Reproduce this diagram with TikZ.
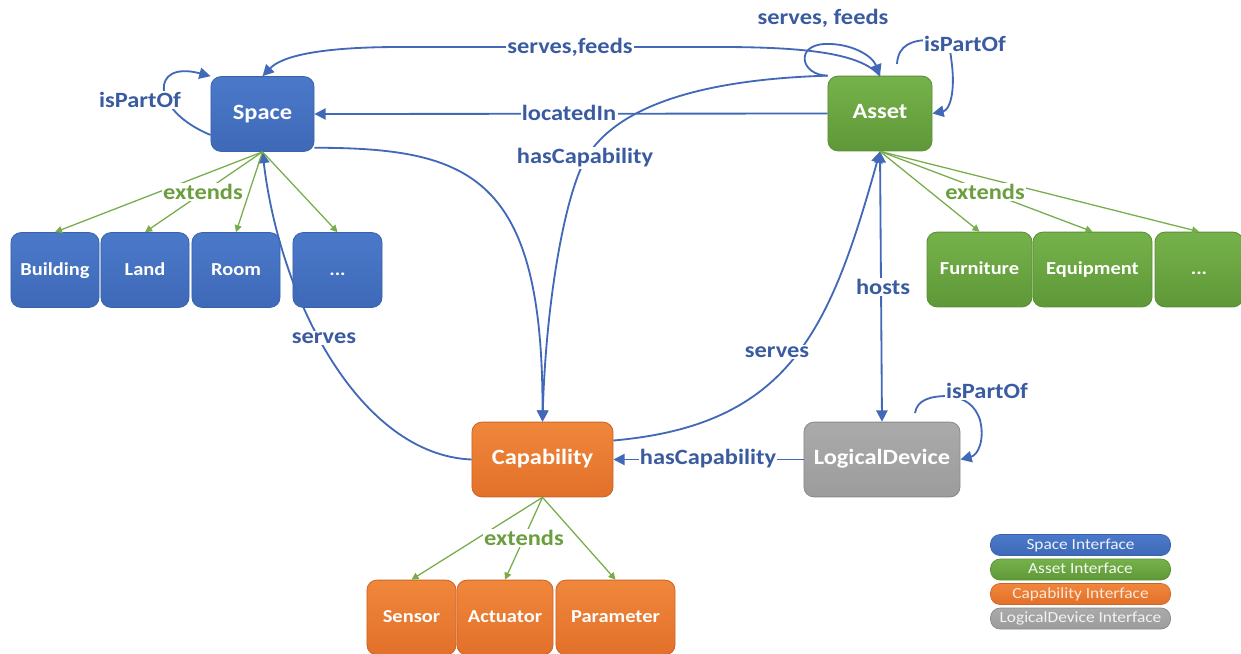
\documentclass[tikz,border=0pt]{standalone}
\usepackage{fontspec}
\setmainfont[FakeStretch=1.12]{Carlito}
\usetikzlibrary{arrows.meta}

\definecolor{spTop}{HTML}{4B79C9}
\definecolor{spBot}{HTML}{3E69B8}
\definecolor{spEdge}{HTML}{3A62AA}
\definecolor{asTop}{HTML}{76B24B}
\definecolor{asBot}{HTML}{5E9838}
\definecolor{asEdge}{HTML}{5A8F36}
\definecolor{caTop}{HTML}{F0873B}
\definecolor{caBot}{HTML}{E2702A}
\definecolor{caEdge}{HTML}{CC6428}
\definecolor{ldTop}{HTML}{AAAAAA}
\definecolor{ldBot}{HTML}{9C9C9C}
\definecolor{ldEdge}{HTML}{8A8A8A}
\definecolor{relLine}{HTML}{4169B8}
\definecolor{relText}{HTML}{3A5BA0}
\definecolor{extLine}{HTML}{76AC4A}
\definecolor{extText}{HTML}{6A9E3E}

\begin{document}
\begin{tikzpicture}[
  x=0.025cm, y=-0.025cm,
  >={Triangle[length=8pt,width=8pt]},
  box/.style={rounded corners=0.25cm, inner sep=0pt, align=center, text=white,
    line width=0.6pt, minimum height=1.87cm, text height=0.86em, text depth=0.1em,
    font=\bfseries\fontsize{15.5}{18}\selectfont},
  subbox/.style={box, font=\bfseries\fontsize{13}{15}\selectfont},
  spacefill/.style={top color=spTop, bottom color=spBot, draw=spEdge},
  assetfill/.style={top color=asTop, bottom color=asBot, draw=asEdge},
  capfill/.style={top color=caTop, bottom color=caBot, draw=caEdge},
  ldfill/.style={top color=ldTop, bottom color=ldBot, draw=ldEdge},
  rel/.style={draw=relLine, line width=1.3pt, ->},
  ext/.style={draw=extLine, line width=0.9pt, -{Triangle[length=5pt,width=5pt]}},
  lbl/.style={fill=white, inner sep=1pt, text=relText,
    font=\bfseries\fontsize{15.5}{18}\selectfont},
  elbl/.style={lbl, text=extText},
  legendbox/.style={rounded corners=0.24cm, inner sep=0pt, minimum width=4.5cm,
    minimum height=0.525cm, line width=0.5pt, text height=0.75em, text depth=0.15em,
    font=\fontsize{11}{13}\selectfont}
]
\useasboundingbox (0,0) rectangle (1241,653);

% ---- main interfaces ----
\node[box, spacefill, minimum width=2.575cm] (Space) at (262.5,114) {Space};
\node[box, assetfill, minimum width=2.6cm] (Asset) at (880,113.5) {Asset};
\node[box, capfill, minimum width=3.525cm] (Capability) at (542.5,459.5) {Capability};
\node[box, ldfill, minimum width=3.9cm] (LD) at (882,459.5) {LogicalDevice};

% ---- space subtypes ----
\node[subbox, spacefill, minimum width=2.2cm] (Building) at (55,270) {Building};
\node[subbox, spacefill, minimum width=2.2cm] (Land) at (145,270) {Land};
\node[subbox, spacefill, minimum width=2.2cm] (Room) at (236,270) {Room};
\node[subbox, spacefill, minimum width=2.225cm] (SpMore) at (337.5,270) {...};

% ---- asset subtypes ----
\node[subbox, assetfill, minimum width=2.625cm] (Furniture) at (979.5,269.5) {Furniture};
\node[subbox, assetfill, minimum width=2.975cm] (Equipment) at (1092.5,269.5) {Equipment};
\node[subbox, assetfill, minimum width=2.2cm] (AsMore) at (1199,269.5) {...};

% ---- capability subtypes ----
\node[subbox, capfill, minimum width=2.225cm] (Sensor) at (411.5,617.5) {Sensor};
\node[subbox, capfill, minimum width=2.4cm] (Actuator) at (505,617.5) {Actuator};
\node[subbox, capfill, minimum width=2.975cm] (Parameter) at (615.5,617.5) {Parameter};

% ---- free ends of the self loops ----
\coordinate (assetLoop) at (897,64);
\coordinate (ldLoop) at (915,413);

% ---- relations ----
\draw[rel] (Asset.west) -- (Space.east);
\draw[rel] (Asset.north) .. controls (862,56) and (820,47) .. (720,47)
  -- (400,47) .. controls (320,47) and (282,56) .. (Space.north);
\draw[rel] (Asset.north west) .. controls (800,75) and (795,45) .. (825,44)
  .. controls (850,43) and (872,55) .. (Asset.north);
\draw[rel] (Asset.north west) .. controls (680,80) and (610,115) .. (585,160)
  .. controls (565,196) and (546,300) .. (Capability.north);
\draw[rel] (Space.-33) .. controls (470,148) and (543,175) .. (Capability.north);
\draw[rel] (Capability.west) .. controls (360,455) and (280,300) .. (Space.south);
\draw[rel] (Capability.15) .. controls (790,425) and (830,330) .. (Asset.south);
\draw[rel, <->] (Asset.south) -- (LD.north);
\draw[rel] (LD.west) -- (Capability.east);
\draw[rel] (Space.-158) .. controls (150,110) and (150,60) .. (Space.north west);
\draw[rel] (assetLoop) .. controls (898,45) and (912,40) .. (930,40)
  .. controls (952,40) and (950,52) .. (952,65)
  .. controls (955,92) and (950,110) .. (Asset.east);
\draw[rel] (ldLoop) .. controls (917,400) and (930,396) .. (948,396)
  .. controls (965,398) and (975,405) .. (980,420)
  .. controls (985,440) and (978,455) .. (LD.east);

% ---- inheritance ----
\foreach \c in {Building, Land, Room, SpMore}
  \draw[ext] (Space.south) -- (\c.north);
\foreach \c in {Furniture, Equipment, AsMore}
  \draw[ext] (Asset.south) -- (\c.north);
\foreach \c in {Sensor, Actuator, Parameter}
  \draw[ext] (Capability.south) -- (\c.north);

% ---- relation labels ----
\node[lbl] (lServesFeeds) at (570,47) {serves,feeds};
\node[lbl] (lAssetLoop) at (823,18) {serves, feeds};
\node[lbl] (lLocated) at (569,113) {locatedIn};
\node[lbl] (lHasCapA) at (585,158) {hasCapability};
\node[lbl] (lSpacePart) at (140,100) {isPartOf};
\node[lbl] (lAssetPart) at (965,44) {isPartOf};
\node[lbl] (lLdPart) at (987,391) {isPartOf};
\node[lbl] (lServesSp) at (324,338) {serves};
\node[lbl] (lServesAs) at (777,352) {serves};
\node[lbl] (lHosts) at (883,287) {hosts};
\node[lbl] (lHasCapL) at (708,459) {hasCapability};
\node[elbl] (eSpace) at (203,192) {extends};
\node[elbl] (eAsset) at (985,192) {extends};
\node[elbl] (eCap) at (524,538) {extends};

% ---- legend ----
\node[legendbox, spacefill, text=white!90!spTop] (legSpace) at (1080.5,545) {Space Interface};
\node[legendbox, assetfill, text=white!92!asTop] (legAsset) at (1080.5,569.5) {Asset Interface};
\node[legendbox, capfill, text=white!80!caTop] (legCap) at (1080.5,594) {Capability Interface};
\node[legendbox, ldfill, text=white!85!ldTop] (legLD) at (1080.5,618.5) {LogicalDevice Interface};
\end{tikzpicture}
\end{document}
